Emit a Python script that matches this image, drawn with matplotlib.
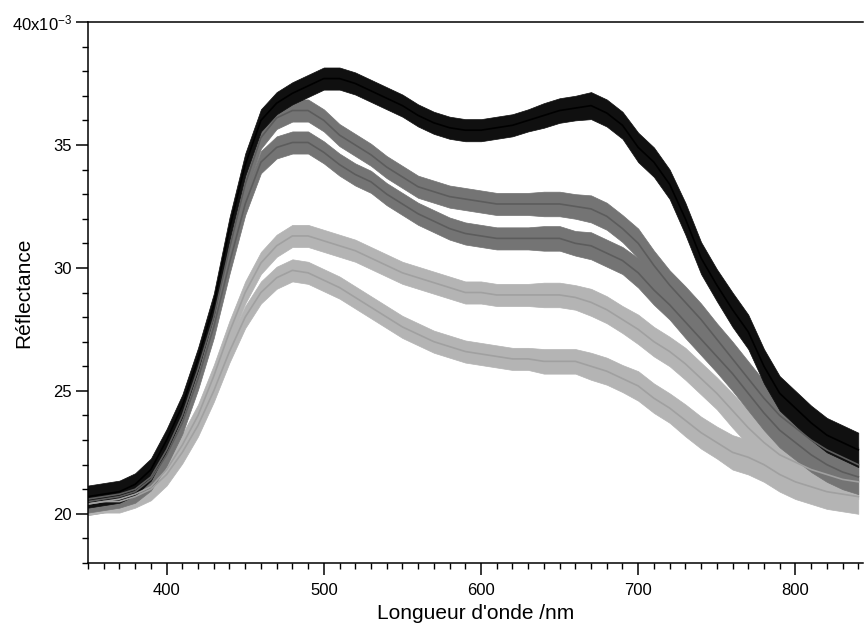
import matplotlib.pyplot as plt
from matplotlib.ticker import MultipleLocator

plt.rcParams['font.family'] = ['Liberation Sans', 'DejaVu Sans']
plt.rcParams['mathtext.fontset'] = 'custom'
plt.rcParams['mathtext.rm'] = 'Liberation Sans'
plt.rcParams['mathtext.it'] = 'Liberation Sans'

# longueur d'onde (nm)
wavelength = [350, 360, 370, 380, 390, 400, 410, 420, 430, 440,
              450, 460, 470, 480, 490, 500, 510, 520, 530, 540,
              550, 560, 570, 580, 590, 600, 610, 620, 630, 640,
              650, 660, 670, 680, 690, 700, 710, 720, 730, 740,
              750, 760, 770, 780, 790, 800, 810, 820, 830, 840]

# réflectance (x10^-3)
refl_black = [20.7, 20.8, 20.9, 21.2, 21.8, 23.0, 24.4, 26.3, 28.5, 31.6,
              34.2, 36.0, 36.7, 37.1, 37.4, 37.7, 37.7, 37.5, 37.2, 36.9,
              36.6, 36.2, 35.9, 35.7, 35.6, 35.6, 35.7, 35.8, 36.0, 36.2,
              36.4, 36.5, 36.6, 36.3, 35.8, 34.9, 34.3, 33.4, 32.0, 30.4,
              29.3, 28.3, 27.4, 26.0, 24.9, 24.3, 23.7, 23.2, 22.9, 22.6]
refl_dark1 = [20.6, 20.7, 20.8, 21.0, 21.5, 22.6, 24.0, 25.9, 28.0, 30.8,
              33.4, 35.3, 36.1, 36.4, 36.4, 36.0, 35.4, 35.0, 34.6, 34.1,
              33.7, 33.3, 33.1, 32.9, 32.8, 32.7, 32.6, 32.6, 32.6, 32.6,
              32.6, 32.5, 32.4, 32.1, 31.6, 31.0, 30.1, 29.3, 28.6, 27.9,
              27.1, 26.3, 25.5, 24.7, 24.0, 23.5, 23.0, 22.6, 22.3, 22.0]
refl_dark2 = [20.5, 20.6, 20.7, 20.9, 21.4, 22.4, 23.7, 25.5, 27.6, 30.2,
              32.6, 34.3, 34.9, 35.1, 35.1, 34.7, 34.2, 33.8, 33.5, 33.0,
              32.6, 32.2, 31.9, 31.6, 31.4, 31.3, 31.2, 31.2, 31.2, 31.2,
              31.2, 31.0, 30.9, 30.6, 30.3, 29.8, 29.1, 28.5, 27.8, 27.1,
              26.4, 25.7, 24.9, 24.1, 23.4, 22.9, 22.4, 22.0, 21.7, 21.5]
refl_light1 = [20.4, 20.5, 20.6, 20.8, 21.1, 21.8, 22.8, 24.0, 25.6, 27.4,
               29.0, 30.2, 30.9, 31.3, 31.3, 31.1, 30.9, 30.7, 30.4, 30.1,
               29.8, 29.6, 29.4, 29.2, 29.0, 29.0, 28.9, 28.9, 28.9, 28.9,
               28.9, 28.8, 28.6, 28.3, 27.9, 27.5, 27.0, 26.6, 26.1, 25.5,
               24.9, 24.2, 23.5, 22.9, 22.4, 22.1, 21.8, 21.6, 21.4, 21.3]
refl_light2 = [20.4, 20.5, 20.5, 20.7, 21.0, 21.6, 22.5, 23.6, 25.0, 26.6,
               28.0, 29.0, 29.6, 29.9, 29.8, 29.5, 29.2, 28.8, 28.4, 28.0,
               27.6, 27.3, 27.0, 26.8, 26.6, 26.5, 26.4, 26.3, 26.3, 26.2,
               26.2, 26.2, 26.0, 25.8, 25.5, 25.2, 24.7, 24.3, 23.8, 23.3,
               22.9, 22.5, 22.3, 22.0, 21.6, 21.3, 21.1, 20.9, 20.8, 20.7]

# demi-largeur du bruit (x10^-3)
noise = [0.45, 0.45, 0.45, 0.45, 0.45, 0.45, 0.45, 0.45, 0.45, 0.45,
         0.45, 0.45, 0.45, 0.45, 0.45, 0.45, 0.45, 0.45, 0.45, 0.45,
         0.45, 0.45, 0.45, 0.45, 0.45, 0.45, 0.45, 0.45, 0.45, 0.5,
         0.5, 0.5, 0.55, 0.55, 0.55, 0.6, 0.6, 0.6, 0.65, 0.65,
         0.65, 0.7, 0.7, 0.7, 0.7, 0.7, 0.7, 0.7, 0.7, 0.7]

# (valeurs, couleur du trait, couleur du bruit)
series = [(refl_light2, '#a0a0a0', '#b4b4b4'), (refl_light1, '#a0a0a0', '#b4b4b4'),
          (refl_dark2, '#5c5c5c', '#747474'), (refl_dark1, '#5c5c5c', '#747474'),
          (refl_black, '#000000', '#101010')]

fig = plt.figure(figsize=(8.64, 6.23), dpi=100)
ax = fig.add_axes([88 / 864, 60 / 623, 775 / 864, 541 / 623])

for values, color, band in series:
    lo = [v - n for v, n in zip(values, noise)]
    hi = [v + n for v, n in zip(values, noise)]
    ax.fill_between(wavelength, lo, hi, color=band, lw=0.5, ec=band)
    ax.plot(wavelength, values, color=color, lw=1.2)

ax.set_xlim(350, 843)
ax.set_ylim(18, 40)

# axes style Igor
ax.spines['right'].set_visible(False)
for s in ['left', 'bottom', 'top']:
    ax.spines[s].set_linewidth(1.1)
ax.xaxis.set_major_locator(MultipleLocator(100))
ax.xaxis.set_minor_locator(MultipleLocator(10))
ax.yaxis.set_major_locator(MultipleLocator(5))
ax.yaxis.set_minor_locator(MultipleLocator(1))
ax.tick_params(which='major', direction='out', length=8.6, width=1.1, labelsize=12, pad=3)
ax.tick_params(which='minor', direction='out', length=4.3, width=1.0)
ax.tick_params(axis='x', which='both', top=False)
ax.tick_params(axis='x', which='major', pad=6)

ax.set_yticks([20, 25, 30, 35, 40])
ax.set_yticklabels(['20', '25', '30', '35', r'40x10$^{-3}$'])

ax.set_xlabel("Longueur d'onde /nm", fontsize=15, labelpad=4)
ax.set_ylabel('Réflectance', fontsize=15)
ax.yaxis.set_label_coords(-0.07, 0.5)

plt.savefig('out.png', dpi=100)
